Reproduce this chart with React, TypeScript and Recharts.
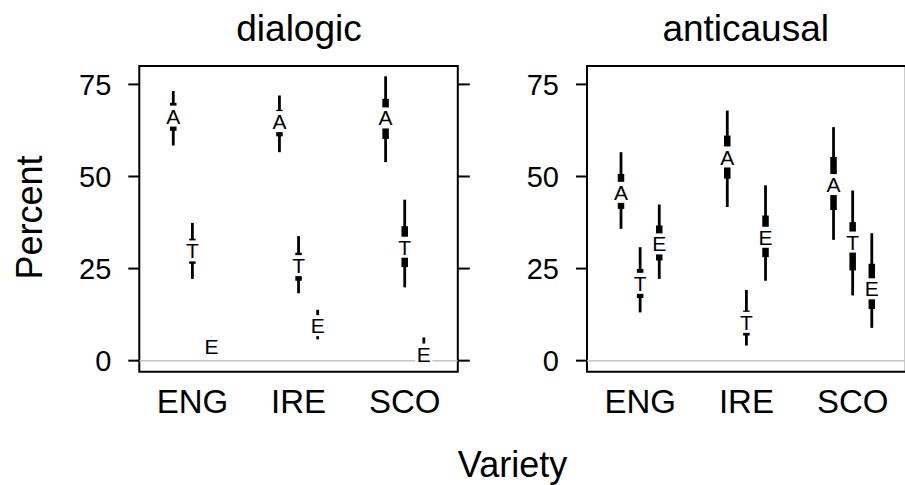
import React from 'react';
import {
  ScatterChart,
  Scatter,
  XAxis,
  YAxis,
  ErrorBar,
  ReferenceLine,
  ReferenceArea,
} from 'recharts';

const varieties = ['ENG', 'IRE', 'SCO'];
const letters = ['A', 'T', 'E'];
const yTicks = [0, 25, 50, 75];

// rows: A, T, E ; columns: ENG, IRE, SCO
const dialogicMedian = [
  [66.4, 64.9, 65.9],
  [29.8, 25.8, 30.8],
  [3.8, 9.5, 1.8],
];
const dialogicLo50 = [
  [62.4, 60.9, 60.2],
  [26.3, 21.7, 25.4],
  [3.0, 7.8, 0.9],
];
const dialogicHi50 = [
  [70.0, 68.1, 71.1],
  [33.1, 29.3, 36.5],
  [4.6, 11.2, 3.5],
];
const dialogicLo95 = [
  [58.4, 56.6, 53.9],
  [22.2, 18.3, 19.9],
  [2.0, 5.8, 0.2],
];
const dialogicHi95 = [
  [73.2, 72.0, 77.2],
  [37.4, 33.8, 43.7],
  [6.6, 13.8, 6.3],
];

const anticausalMedian = [
  [45.7, 55.3, 47.8],
  [21.0, 10.4, 32.2],
  [31.7, 33.5, 19.5],
];
const anticausalLo50 = [
  [41.2, 49.4, 40.9],
  [17.0, 6.8, 24.5],
  [27.2, 28.1, 14.0],
];
const anticausalHi50 = [
  [50.7, 61.1, 55.3],
  [24.9, 13.6, 37.6],
  [36.7, 39.4, 26.3],
];
const anticausalLo95 = [
  [35.8, 41.7, 32.8],
  [13.1, 4.1, 17.7],
  [22.2, 21.7, 8.9],
];
const anticausalHi95 = [
  [56.6, 67.9, 63.4],
  [30.8, 19.2, 46.2],
  [42.4, 47.6, 34.6],
];

const FONT = '"Liberation Sans", Arial, Helvetica, sans-serif';
const DODGE = 0.18;
const Y_DOMAIN: [number, number] = [-3, 80];

const buildRows = (med: number[][], lo50: number[][], hi50: number[][], lo95: number[][], hi95: number[][]) => {
  const rows: any[] = [];
  letters.forEach((letter, li) => {
    varieties.forEach((_, vi) => {
      const m = med[li][vi];
      rows.push({
        x: vi + (li - 1) * DODGE,
        med: m,
        letter,
        e95: [m - lo95[li][vi], hi95[li][vi] - m],
        e50: [m - lo50[li][vi], hi50[li][vi] - m],
      });
    });
  });
  return rows;
};

const dialogicRows = buildRows(dialogicMedian, dialogicLo50, dialogicHi50, dialogicLo95, dialogicHi95);
const anticausalRows = buildRows(anticausalMedian, anticausalLo50, anticausalHi50, anticausalLo95, anticausalHi95);

const LetterMark = (props: any) => {
  const { cx, cy, payload } = props;
  if (cx == null || cy == null) return <g />;
  return (
    <g>
      <rect x={cx - 8.5} y={cy - 10.5} width={17} height={21} fill="#fff" />
      <text x={cx} y={cy} dy="0.36em" textAnchor="middle" fontSize={21} fontFamily={FONT} fill="#000">
        {payload.letter}
      </text>
    </g>
  );
};

const EmptyMark = () => <g />;

interface PanelProps {
  rows: any[];
  width: number;
  margin: { top: number; right: number; bottom: number; left: number };
  rightTicks?: boolean;
}

const Panel: React.FC<PanelProps> = ({ rows, width, margin, rightTicks }) => (
  <ScatterChart width={width} height={430} margin={margin}>
    <XAxis
      type="number"
      dataKey="x"
      domain={[-0.5, 2.5]}
      ticks={[0, 1, 2]}
      allowDataOverflow
      tickFormatter={(i: number) => varieties[i]}
      axisLine={false}
      tickLine={false}
      tickSize={0}
      tickMargin={18}
      height={50}
      tick={{ fill: '#000', fontSize: 33, fontFamily: FONT }}
    />
    <YAxis
      type="number"
      dataKey="med"
      domain={Y_DOMAIN}
      ticks={yTicks}
      allowDataOverflow
      axisLine={false}
      tickSize={11}
      tickMargin={17}
      width={60}
      tickLine={{ stroke: '#000', strokeWidth: 2 }}
      tick={{ fill: '#000', fontSize: 29, fontFamily: FONT }}
    />
    {rightTicks && (
      <YAxis
        yAxisId="r"
        orientation="right"
        type="number"
        domain={Y_DOMAIN}
        ticks={yTicks}
        allowDataOverflow
        axisLine={false}
        tickSize={12}
        width={20}
        tickFormatter={() => ''}
        tickLine={{ stroke: '#000', strokeWidth: 2 }}
      />
    )}
    <ReferenceLine y={0} stroke="#c4c4c4" strokeWidth={1.5} />
    <Scatter data={rows} shape={EmptyMark} isAnimationActive={false}>
      <ErrorBar dataKey="e95" direction="y" width={0} strokeWidth={2.8} stroke="#000" isAnimationActive={false} />
      <ErrorBar dataKey="e50" direction="y" width={0} strokeWidth={6.5} stroke="#000" isAnimationActive={false} />
    </Scatter>
    <Scatter data={rows} shape={LetterMark} isAnimationActive={false} />
    <ReferenceArea x1={-0.5} x2={2.5} y1={Y_DOMAIN[0]} y2={Y_DOMAIN[1]} fill="none" stroke="#000" strokeWidth={2} ifOverflow="visible" />
  </ScatterChart>
);

export default function App() {
  return (
    <div style={{ position: 'absolute', left: 0, top: 0, width: 905, height: 485, overflow: 'hidden', background: '#fff' }}>
      <div style={{ position: 'absolute', left: 0, top: 0 }}>
        <Panel rows={dialogicRows} width={480} margin={{ top: 66, right: 2.2, bottom: 8.3, left: 79.3 }} rightTicks />
      </div>
      <div style={{ position: 'absolute', left: 480, top: 0 }}>
        <Panel rows={anticausalRows} width={440} margin={{ top: 66, right: 14.2, bottom: 8.3, left: 47 }} />
      </div>
      <svg width={905} height={485} style={{ position: 'absolute', left: 0, top: 0, pointerEvents: 'none' }}>
        <text x={299} y={40.7} textAnchor="middle" fontSize={37} fontFamily={FONT} fill="#000">dialogic</text>
        <text x={745.7} y={40.7} textAnchor="middle" fontSize={37} fontFamily={FONT} fill="#000">anticausal</text>
        <text x={41.7} y={217.5} textAnchor="middle" fontSize={36} fontFamily={FONT} fill="#000" transform="rotate(-90, 41.7, 217.5)">Percent</text>
        <text x={512.5} y={476.7} textAnchor="middle" fontSize={36} fontFamily={FONT} fill="#000">Variety</text>
      </svg>
    </div>
  );
}
